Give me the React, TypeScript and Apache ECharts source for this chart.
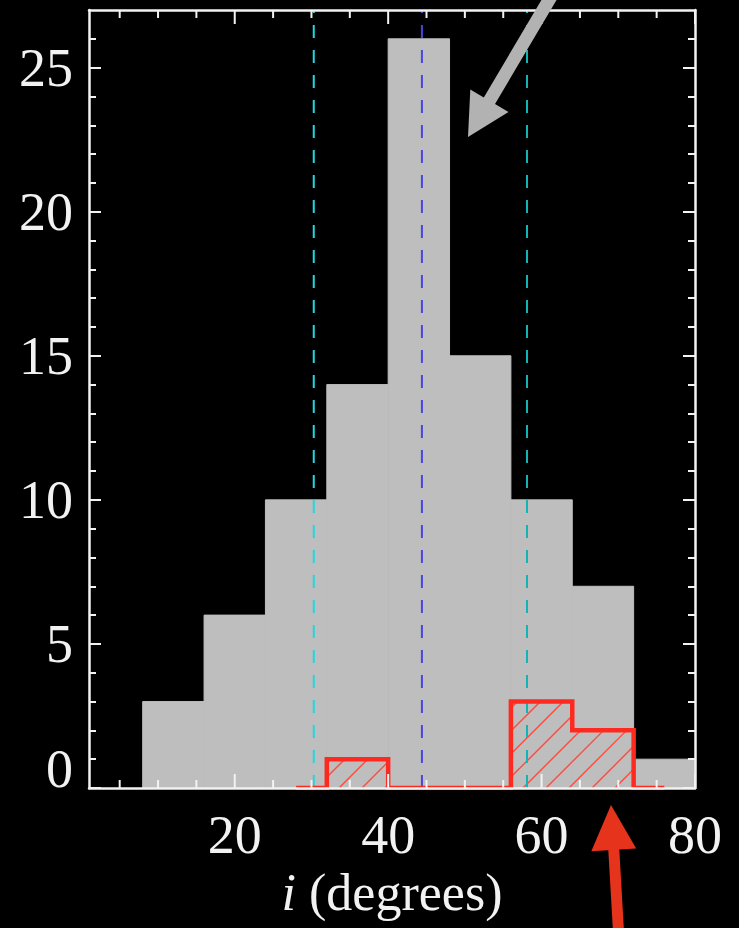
import React, { useEffect, useRef } from 'react';
import * as echarts from 'echarts';

// Histogram of inclinations (degrees), bins of 8 degrees
const binStarts = [8, 16, 24, 32, 40, 48, 56, 64, 72];
const binWidth = 8;
const allCounts = [3, 6, 10, 14, 26, 15, 10, 7, 1];
// Sub-sample histogram (drawn as centred steps)
const subCenters = [28, 36, 44, 52, 60, 68, 76];
const subCounts = [0, 1, 0, 0, 3, 2, 0];
// Mean and +/- sigma markers
const meanValue = 44.4;
const sigmaValues = [30.3, 58.1];
// Axes
const xMajorTicks = [20, 40, 60, 80];
const xMinorTicks = [5, 10, 15, 25, 30, 35, 45, 50, 55, 65, 70, 75];
const xLabels = [20, 40, 60, 80];
const yMajorTicks = [0, 5, 10, 15, 20, 25];
const yMinorTicks = [1, 2, 3, 4, 6, 7, 8, 9, 11, 12, 13, 14, 16, 17, 18, 19, 21, 22, 23, 24, 26];
const yLabels = [0, 5, 10, 15, 20, 25];

const FONT = "'Liberation Serif', 'Times New Roman', serif";
const WHITE = '#f2f2f2';

export default function App() {
  const ref = useRef<HTMLDivElement>(null);

  useEffect(() => {
    document.body.style.margin = '0';
    document.body.style.background = '#000';
    const chart = echarts.init(ref.current!, null, { renderer: 'svg' });

    const xMin = 1, xMax = 80, yMin = 0, yMax = 27;

    const baseX = (pos: 'bottom' | 'top', labels: boolean) => ({
      type: 'value',
      gridIndex: 0,
      position: pos,
      min: xMin,
      max: xMax,
      z: 5,
      axisLine: { show: true, onZero: false, lineStyle: { color: WHITE, width: 2.5 } },
      axisTick: { show: false },
      axisLabel: labels
        ? {
            show: true,
            customValues: xLabels,
            color: WHITE,
            fontFamily: FONT,
            fontSize: 54,
            margin: 20,
          }
        : { show: false },
      splitLine: { show: false },
    });

    const baseY = (pos: 'left' | 'right', major: boolean, labels: boolean, gridIndex: number) => ({
      type: 'value',
      gridIndex,
      position: pos,
      min: yMin,
      max: yMax,
      z: 5,
      axisLine: { show: major, onZero: false, lineStyle: { color: WHITE, width: 2.5 } },
      axisTick: {
        show: true,
        inside: true,
        customValues: major ? yMajorTicks : yMinorTicks,
        length: major ? 12 : 7,
        lineStyle: { color: WHITE, width: 2 },
      },
      axisLabel: labels
        ? {
            show: true,
            customValues: yLabels.map((v) => (v === 0 ? 0.65 : v)),
            formatter: (v: number) => (v < 1 ? '0' : String(v)),
            color: WHITE,
            fontFamily: FONT,
            fontSize: 54,
            margin: 16,
          }
        : { show: false },
      splitLine: { show: false },
    });

    const xBottom: any = baseX('bottom', true);
    xBottom.name = '{it|i} (degrees)';
    xBottom.nameLocation = 'middle';
    xBottom.nameGap = 72;
    xBottom.nameTextStyle = {
      color: WHITE,
      fontFamily: FONT,
      fontSize: 52,
      rich: {
        it: { fontStyle: 'italic', fontFamily: FONT, fontSize: 52, color: WHITE },
      },
    };
    const xTop: any = baseX('top', false);
    xTop.gridIndex = 1;

    const grayData = binStarts.map((s, i) => [s, s + binWidth, allCounts[i]]);
    const hatchData = subCenters
      .map((c, i) => [c - binWidth / 2, c + binWidth / 2, subCounts[i]])
      .filter((d) => d[2] > 0);
    const stepData = subCenters.map((c, i) => [c, subCounts[i]]);

    const dashed = (x: number, color: string) => ({
      type: 'line',
      z: 3,
      silent: true,
      symbol: 'none',
      data: [
        [x, yMin],
        [x, yMax],
      ],
      lineStyle: { color, width: 2, type: [13, 12] },
    });

    // x-axis tick marks on bottom and top frame (inward)
    const xTickSeries = (values: number[], len: number) => ({
      type: 'custom',
      z: 6,
      silent: true,
      clip: false,
      data: values.map((v) => [v, yMin]),
      encode: { x: 0, y: 1 },
      renderItem: (params: any, api: any) => {
        const v = api.value(0);
        const pB = api.coord([v, yMin]);
        const pT = api.coord([v, yMax]);
        const st = { stroke: WHITE, lineWidth: 2 };
        return {
          type: 'group',
          children: [
            { type: 'line', shape: { x1: pB[0], y1: pB[1], x2: pB[0], y2: pB[1] - len }, style: st },
            { type: 'line', shape: { x1: pT[0], y1: pT[1], x2: pT[0], y2: pT[1] + len }, style: st },
          ],
        };
      },
    });

    const gridBox = { left: 89, right: 44, top: 10, bottom: 140 };

    const option: any = {
      animation: false,
      backgroundColor: '#000',
      grid: [gridBox, gridBox, gridBox, gridBox],
      xAxis: [
        xBottom,
        xTop,
        { type: 'value', gridIndex: 2, min: xMin, max: xMax, show: false },
        { type: 'value', gridIndex: 3, min: xMin, max: xMax, show: false },
      ],
      yAxis: [
        baseY('left', true, true, 0),
        baseY('right', true, false, 1),
        baseY('left', false, false, 2),
        baseY('right', false, false, 3),
      ],
      series: [
        {
          type: 'custom',
          z: 1,
          silent: true,
          data: grayData,
          encode: { x: [0, 1], y: 2 },
          renderItem: (params: any, api: any) => {
            const p0 = api.coord([api.value(0), api.value(2)]);
            const p1 = api.coord([api.value(1), 0]);
            return {
              type: 'rect',
              shape: { x: p0[0], y: p0[1], width: p1[0] - p0[0], height: p1[1] - p0[1] },
              style: { fill: '#bebebe', stroke: '#bebebe', lineWidth: 1 },
            };
          },
        },
        {
          type: 'custom',
          z: 2,
          silent: true,
          data: hatchData,
          encode: { x: [0, 1], y: 2 },
          renderItem: (params: any, api: any) => {
            const p0 = api.coord([api.value(0), api.value(2)]);
            const p1 = api.coord([api.value(1), 0]);
            const x0 = p0[0], x1 = p1[0], yT = p0[1], yB = p1[1];
            const s = 23;
            const children: any[] = [];
            const kMin = x0 + yT;
            const kMax = x1 + yB;
            for (let k = Math.ceil(kMin / s) * s; k <= kMax; k += s) {
              const lo = Math.max(x0, k - yB);
              const hi = Math.min(x1, k - yT);
              if (hi - lo > 0.5) {
                children.push({
                  type: 'line',
                  shape: { x1: lo, y1: k - lo, x2: hi, y2: k - hi },
                  style: { stroke: '#ff4a3a', lineWidth: 1.4 },
                });
              }
            }
            return { type: 'group', children };
          },
        },
        dashed(sigmaValues[0], '#22d6e0'),
        dashed(meanValue, '#4a44e6'),
        dashed(sigmaValues[1], '#14b4b4'),
        {
          type: 'line',
          z: 4,
          silent: true,
          symbol: 'none',
          step: 'middle',
          data: stepData,
          lineStyle: { color: '#ff2a1f', width: 4.5, cap: 'butt', join: 'miter' },
        },
        xTickSeries(xMajorTicks, 14),
        xTickSeries(xMinorTicks, 8),
      ],
      graphic: [
        {
          type: 'polygon',
          z: 100,
          silent: true,
          shape: {
            points: [
              [468, 137],
              [508.5, 112.1],
              [495.0, 104.1],
              [558.9, -4.0],
              [547.7, -10.6],
              [483.8, 97.5],
              [470.3, 89.5],
            ],
          },
          style: { fill: '#b2b2b2' },
        },
        {
          type: 'polygon',
          z: 100,
          silent: true,
          shape: {
            points: [
              [611, 805],
              [636.2, 848.5],
              [619.3, 849.6],
              [624.5, 940],
              [613.5, 940],
              [608.3, 850.2],
              [591.3, 851.3],
            ],
          },
          style: { fill: '#e6331c' },
        },
      ],
    };

    chart.setOption(option);
    return () => chart.dispose();
  }, []);

  return (
    <div
      ref={ref}
      style={{ position: 'absolute', left: 0, top: 0, width: 739, height: 928, background: '#000' }}
    />
  );
}
